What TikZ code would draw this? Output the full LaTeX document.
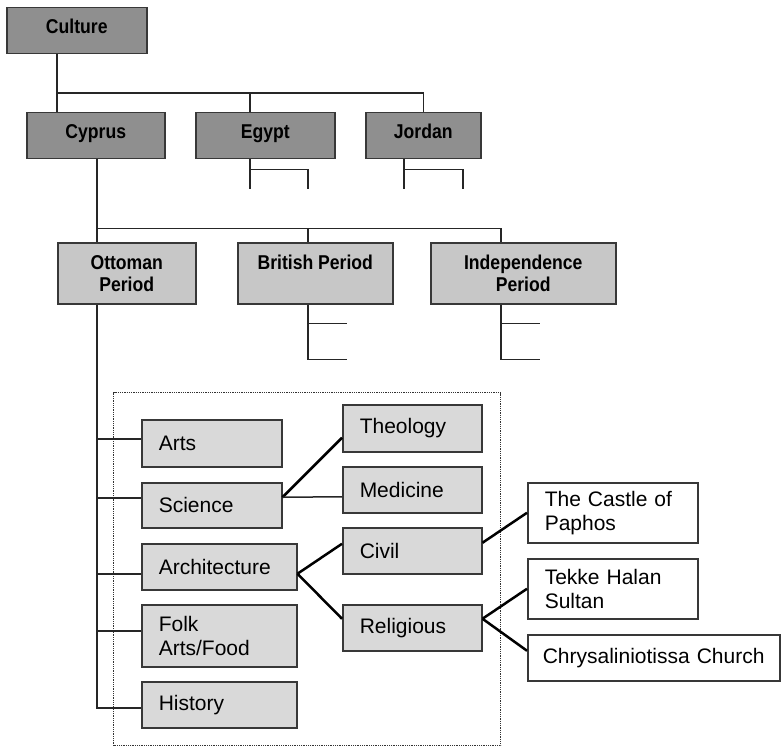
\documentclass[tikz,border=0pt]{standalone}
\usepackage{fontspec}
\setmainfont{Liberation Sans}
\newfontfamily\topfont[FakeStretch=0.88]{Liberation Sans}
\definecolor{topfill}{gray}{0.56}
\definecolor{perfill}{gray}{0.78}
\definecolor{infill}{gray}{0.85}
\definecolor{edge}{gray}{0.22}
\begin{document}
\begin{tikzpicture}[x=1pt,y=-1pt,
  basebox/.style={draw=edge, line width=1.5pt, anchor=north west, inner sep=0pt},
  topbox/.style={basebox, fill=topfill, align=center, font=\topfont\bfseries\fontsize{20}{22}\selectfont},
  perbox/.style={topbox, fill=perfill},
  ibox/.style={basebox, fill=infill, align=left, inner xsep=17pt, font=\fontsize{21}{24}\selectfont},
  wbox/.style={ibox, fill=white},
  tree/.style={draw=black!85, line width=1.5pt},
  link/.style={draw=black, line width=2.5pt},
  thin link/.style={draw=black!85, line width=1.5pt},
  frame/.style={draw=black!80, line width=1.2pt, dash pattern=on 1pt off 0.8pt, anchor=north west, inner sep=0pt}
]
\useasboundingbox (0,0) rectangle (781,746);

% top level
\node[topbox, minimum width=140pt, minimum height=46pt] (culture) at (6,7) {Culture\\[-14pt]\mbox{}};
\node[topbox, minimum width=138pt, minimum height=46pt] (cyprus) at (26,112) {Cyprus\\[-14pt]\mbox{}};
\node[topbox, minimum width=139pt, minimum height=46pt] (egypt) at (195,112) {Egypt\\[-14pt]\mbox{}};
\node[topbox, minimum width=115pt, minimum height=46pt] (jordan) at (365,112) {Jordan\\[-14pt]\mbox{}};

% periods
\node[perbox, minimum width=138pt, minimum height=61pt] (ottoman) at (57,242) {Ottoman\\Period};
\node[perbox, minimum width=155pt, minimum height=61pt] (british) at (237,242) {British Period\\\mbox{}};
\node[perbox, minimum width=185pt, minimum height=61pt] (indep) at (430,242) {Independence\\Period};

% dotted frame
\node[frame, minimum width=387pt, minimum height=353pt] (box) at (113,392) {};

% inner boxes
\node[ibox, text width=106pt, minimum height=47pt] (arts) at (141,419) {Arts};
\node[ibox, text width=106pt, minimum height=45pt] (science) at (141,482) {Science};
\node[ibox, text width=121pt, minimum height=46pt] (archi) at (141,543) {Architecture};
\node[ibox, text width=121pt, minimum height=62pt] (folk) at (141,604) {Folk\\Arts/Food};
\node[ibox, text width=121pt, minimum height=46pt] (history) at (141,681) {History};
\node[ibox, text width=105pt, minimum height=47pt] (theology) at (342,404) {Theology};
\node[ibox, text width=105pt, minimum height=46pt] (medicine) at (342,466) {Medicine};
\node[ibox, text width=105pt, minimum height=46pt] (civil) at (342,527) {Civil};
\node[ibox, text width=105pt, minimum height=46pt] (relig) at (342,604) {Religious};
\node[wbox, text width=136pt, minimum height=60pt] (castle) at (527,482) {The Castle of\\Paphos};
\node[wbox, text width=136pt, minimum height=60pt] (tekke) at (527,558) {Tekke Halan\\Sultan};
\node[wbox, inner xsep=15pt, text width=222pt, minimum height=46pt] (chrys) at (527,634) {Chrysaliniotissa Church};

% tree: culture to countries
\coordinate (cx) at (57,93);
\coordinate (egd) at ([xshift=-15.5pt]egypt.north);
\draw[tree] (culture.south -| cx) -- (cx) -- (cx |- cyprus.north);
\draw[tree] (cx) -| (jordan.north);
\draw[tree] (egd |- cx) -- (egd);

% egypt / jordan stubs
\coordinate (egs) at ([xshift=-15.5pt]egypt.south);
\draw[tree] (egs) -- ++(0,30);
\draw[tree] ([yshift=-10pt]egs) -| ++(58,20);
\coordinate (jos) at ([xshift=-19.5pt]jordan.south);
\draw[tree] (jos) -- ++(0,30);
\draw[tree] ([yshift=-10pt]jos) -| ++(59,20);

% cyprus to periods
\path (cyprus.south) ++(1,69) coordinate (cb);
\draw[tree] ([xshift=1pt]cyprus.south) -- (cb) -- (cb |- ottoman.north);
\coordinate (brd) at ([xshift=-7.5pt]british.north);
\coordinate (ind) at ([xshift=-22.5pt]indep.north);
\draw[tree] (cb) -| (ind);
\draw[tree] (brd |- cb) -- (brd);

% british / independence stubs
\coordinate (brs) at ([xshift=-7.5pt]british.south);
\draw[tree] (brs) -- ++(0,55) -- ++(39,0);
\draw[tree] ([yshift=-19pt]brs) -- ++(39,0);
\coordinate (ins) at ([xshift=-22.5pt]indep.south);
\draw[tree] (ins) -- ++(0,55) -- ++(39,0);
\draw[tree] ([yshift=-19pt]ins) -- ++(39,0);

% ottoman spine
\coordinate (os) at ([xshift=-30pt]ottoman.south);
\coordinate (oe) at ([yshift=-3pt]history.west);
\coordinate (oa) at ([yshift=4.5pt]arts.west);
\coordinate (osc) at ([yshift=7.5pt]science.west);
\coordinate (oar) at ([yshift=-7pt]archi.west);
\coordinate (ofo) at ([yshift=5pt]folk.west);
\draw[tree] (os) -- (os |- oe) -- (oe);
\draw[tree] (os |- oa) -- (oa);
\draw[tree] (os |- osc) -- (osc);
\draw[tree] (os |- oar) -- (oar);
\draw[tree] (os |- ofo) -- (ofo);

% inner links
\draw[link] ([yshift=8pt]science.east) -- ([yshift=-9.5pt]theology.west);
\draw[thin link] ([yshift=8pt]science.east) -- ([yshift=-7pt]medicine.west);
\draw[link] ([yshift=-7pt]archi.east) -- ([yshift=7pt]civil.west);
\draw[link] ([yshift=-7pt]archi.east) -- ([yshift=9pt]relig.west);
\draw[link] ([yshift=8pt]civil.east) -- (castle.west);
\draw[link] ([yshift=9pt]relig.east) -- (tekke.west);
\draw[link] ([yshift=9pt]relig.east) -- ([yshift=7pt]chrys.west);
\end{tikzpicture}
\end{document}
